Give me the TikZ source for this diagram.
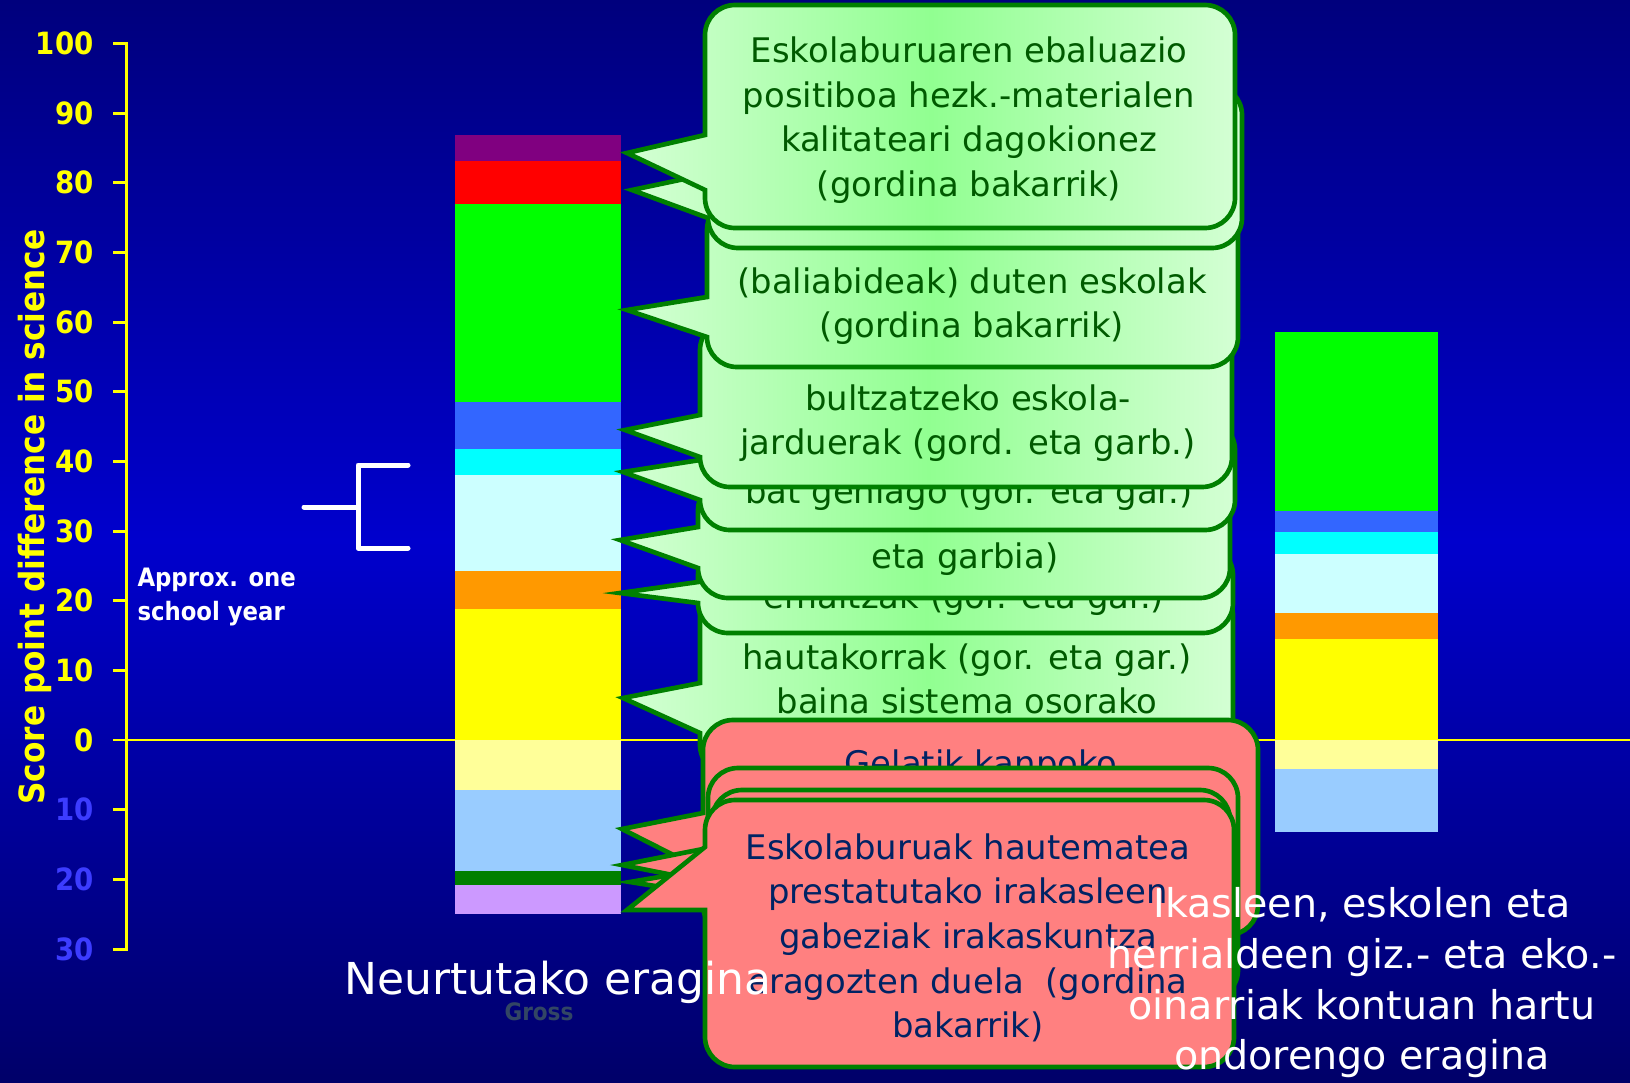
\documentclass[tikz,border=0pt]{standalone}
\usepackage{fontspec}
\setmainfont{DejaVu Sans}
\newfontfamily\condfont{DejaVu Sans Condensed}

\definecolor{bgtop}{RGB}{0,0,125}
\definecolor{bgmid}{RGB}{0,0,205}
\definecolor{bgbot}{RGB}{0,0,105}
\definecolor{axisyellow}{RGB}{255,255,0}
\definecolor{negblue}{RGB}{60,60,255}
\definecolor{barpurple}{RGB}{128,0,128}
\definecolor{barred}{RGB}{255,0,0}
\definecolor{bargreen}{RGB}{0,255,0}
\definecolor{barblue}{RGB}{51,102,255}
\definecolor{barcyan}{RGB}{0,255,255}
\definecolor{barlightcyan}{RGB}{204,255,255}
\definecolor{barorange}{RGB}{255,153,0}
\definecolor{baryellow}{RGB}{255,255,0}
\definecolor{barlightyellow}{RGB}{255,255,153}
\definecolor{barlightblue}{RGB}{153,204,255}
\definecolor{bardarkgreen}{RGB}{0,128,0}
\definecolor{barlavender}{RGB}{204,153,255}
\definecolor{calloutline}{RGB}{0,128,0}
\definecolor{greenedge}{RGB}{212,255,212}
\definecolor{greenmid}{RGB}{145,255,145}
\definecolor{redfill}{RGB}{255,128,128}
\definecolor{greenink}{RGB}{0,90,0}
\definecolor{redink}{RGB}{0,35,100}
\definecolor{ghostgrey}{RGB}{50,70,100}

\tikzset{every picture/.style={line width=0.75pt},
  greenbubble/.style={draw=calloutline, line width=3.5pt, left color=greenedge, right color=greenedge, middle color=greenmid},
  redbubble/.style={draw=calloutline, line width=3.5pt, fill=redfill},
  greentext/.style={text=greenink, align=center, font=\fontsize{25.4}{33.5}\selectfont},
  redtext/.style={text=redink, align=center, font=\fontsize{25.4}{33.5}\selectfont},
  ticklabel/.style={anchor=east, inner sep=0pt, text=axisyellow, font=\condfont\bfseries\fontsize{23}{26}\selectfont},
  negticklabel/.style={ticklabel, text=negblue},
  whitetext/.style={text=white, align=center},
  bracketline/.style={white, line width=3.75pt, line cap=round, line join=round},
}

% callout: style, left, top, right, bottom, pointer base top, tip x, tip y, pointer base bottom
\newcommand{\speechbubble}[9]{%
  \draw[#1] (#2,#6) -- (#7,#8) -- (#2,#9) -- (#2,#5-30)
    arc[start angle=180,end angle=90,radius=30] -- (#4-30,#5)
    arc[start angle=90,end angle=0,radius=30] -- (#4,#3+30)
    arc[start angle=0,end angle=-90,radius=30] -- (#2+30,#3)
    arc[start angle=-90,end angle=-180,radius=30] -- cycle;}

\begin{document}
\begin{tikzpicture}[x=0.75pt,y=0.75pt,yscale=-1,xscale=1]
\useasboundingbox (0,0) rectangle (1630,1082);

%Shape: Background
\shade[top color=bgtop, bottom color=bgbot, middle color=bgmid] (0,0) rectangle (1630,1082);

%Straight Lines: zero line
\draw[axisyellow, line width=1.5pt] (113,740) -- (1630,740);
%Shape: Axis
\draw[axisyellow, line width=2.25pt] (113,43.5) -- (126,43.5) -- (126,949) -- (113,949)
  (113,113.2) -- (126,113.2) (113,182.8) -- (126,182.8) (113,252.5) -- (126,252.5)
  (113,322.1) -- (126,322.1) (113,391.8) -- (126,391.8) (113,461.4) -- (126,461.4)
  (113,531.1) -- (126,531.1) (113,600.7) -- (126,600.7) (113,670.4) -- (126,670.4)
  (113,809.7) -- (126,809.7) (113,879.3) -- (126,879.3);

% Text Node
\node[ticklabel] (t100) at (94,43.5) {100};
\node[ticklabel] (t90) at (94,113.2) {90};
\node[ticklabel] (t80) at (94,182.8) {80};
\node[ticklabel] (t70) at (94,252.5) {70};
\node[ticklabel] (t60) at (94,322.1) {60};
\node[ticklabel] (t50) at (94,391.8) {50};
\node[ticklabel] (t40) at (94,461.4) {40};
\node[ticklabel] (t30) at (94,531.1) {30};
\node[ticklabel] (t20) at (94,600.7) {20};
\node[ticklabel] (t10) at (94,670.4) {10};
\node[ticklabel] (t0) at (94,740) {0};
\node[negticklabel] (tm10) at (94,809.7) {10};
\node[negticklabel] (tm20) at (94,879.3) {20};
\node[negticklabel] (tm30) at (94,949) {30};
% Text Node
\node[text=axisyellow, rotate=90, font=\condfont\bfseries\fontsize{26}{30}\selectfont] (ytitle) at (35,517) {Score point difference in science};

%Shape: Rectangle (measured bar)
\fill[barpurple] (455,135) rectangle (621,161.4);
\fill[barred] (455,161.4) rectangle (621,203.6);
\fill[bargreen] (455,203.6) rectangle (621,401.6);
\fill[barblue] (455,401.6) rectangle (621,448.7);
\fill[barcyan] (455,448.7) rectangle (621,474.9);
\fill[barlightcyan] (455,474.9) rectangle (621,571.2);
\fill[barorange] (455,571.2) rectangle (621,608.7);
\fill[baryellow] (455,608.7) rectangle (621,740);
\fill[barlightyellow] (455,740) rectangle (621,790);
\fill[barlightblue] (455,790) rectangle (621,871.4);
\fill[bardarkgreen] (455,871.4) rectangle (621,885.3);
\fill[barlavender] (455,885.3) rectangle (621,913.6);

%Shape: Rectangle (controlled bar)
\fill[bargreen] (1275,331.5) rectangle (1438,511.4);
\fill[barblue] (1275,511.4) rectangle (1438,531.5);
\fill[barcyan] (1275,531.5) rectangle (1438,553.5);
\fill[barlightcyan] (1275,553.5) rectangle (1438,613);
\fill[barorange] (1275,613) rectangle (1438,639);
\fill[baryellow] (1275,639) rectangle (1438,740);
\fill[barlightyellow] (1275,740) rectangle (1438,769);
\fill[barlightblue] (1275,769) rectangle (1438,831.7);

%Straight Lines: bracket
\draw[bracketline] (304,507) -- (358,507) (408,465) -- (358,465) -- (358,548) -- (408,548);
% Text Node
\node[text=white, align=left, anchor=west, inner sep=0pt, font=\condfont\bfseries\fontsize{19}{25.5}\selectfont] (approx) at (137,597) {Approx. one\\school year};
% Text Node
\node[text=ghostgrey, font=\condfont\bfseries\fontsize{18}{20}\selectfont] (gross) at (539,1012) {Gross};

%Shape: Callouts (green)
\speechbubble{greenbubble}{700}{585}{1233}{775}{683}{623}{698}{733}
\node[greentext] (hautakor) at (967,679) {hautakorrak (gor. eta gar.)\\baina sistema osorako};
\speechbubble{greenbubble}{698}{545}{1233}{633}{582}{620}{593}{603}
\node[greentext] (emaitzak) at (964,599) {emaitzak (gor. eta gar.)};
\speechbubble{greenbubble}{698}{480}{1230}{598}{527}{620}{540}{568}
\node[greentext] (garbia) at (965,559) {eta garbia)};
\speechbubble{greenbubble}{700}{420}{1235}{530}{460}{623}{472}{500}
\node[greentext] (gehiago) at (969,494) {bat gehiago (gor. eta gar.)};
\speechbubble{greenbubble}{700}{320}{1232}{487}{415}{625}{430}{457}
\node[greentext] (jarduera) at (968,423) {bultzatzeko eskola-\\jarduerak (gord. eta garb.)};
\speechbubble{greenbubble}{707}{200}{1238}{367}{297}{627}{310}{337}
\node[greentext] (baliabide) at (972,306) {(baliabideak) duten eskolak\\(gordina bakarrik)};
\speechbubble{greenbubble}{708}{85}{1242}{248}{174}{632}{190}{218}
\speechbubble{greenbubble}{705}{5}{1235}{228}{135}{627}{153}{190}
\node[greentext] (ebaluazio) at (969,120) {Eskolaburuaren ebaluazio\\positiboa hezk.-materialen\\kalitateari dagokionez\\(gordina bakarrik)};

%Shape: Callouts (red)
\speechbubble{redbubble}{703}{720}{1258}{935}{813}{622}{829}{870}
\node[redtext] (gelatik) at (981,766) {Gelatik kanpoko};
\speechbubble{redbubble}{708}{768}{1238}{1000}{848}{622}{865}{882}
\speechbubble{redbubble}{712}{790}{1230}{1050}{868}{630}{882}{895}
\speechbubble{redbubble}{705}{800}{1234}{1067}{847}{627}{910}{910}
\node[redtext] (hautematea) at (968,938) {Eskolaburuak hautematea\\prestatutako irakasleen\\gabeziak irakaskuntza\\eragozten duela\ \ (gordina\\bakarrik)};

% Text Node
\node[whitetext, font=\fontsize{33}{40}\selectfont] (measured) at (558,982) {Neurtutako eragina};
% Text Node
\node[whitetext, font=\fontsize{29.7}{38}\selectfont] (controlled) at (1362,983) {Ikasleen, eskolen eta\\herrialdeen giz.- eta eko.-\\oinarriak kontuan hartu\\ondorengo eragina};

\end{tikzpicture}
\end{document}
